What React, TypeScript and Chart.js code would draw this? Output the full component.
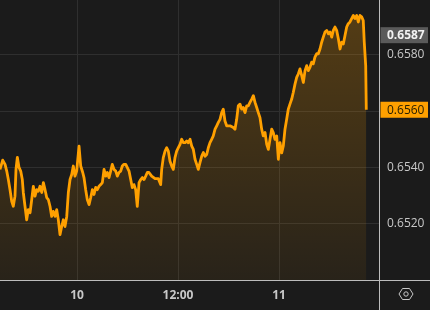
import { useEffect, useRef } from "react";
import { Chart, registerables } from "chart.js";
Chart.register(...registerables);

// Hours relative to midnight of day "10"
const times = [
  -9.15, -8.83, -8.55, -8.35, -8.16, -7.96, -7.76, -7.57, -7.37, -7.25,
  -7.09, -6.89, -6.69, -6.5, -6.38, -6.18, -5.98, -5.79, -5.58, -5.38,
  -5.19, -4.99, -4.79, -4.6, -4.4, -4.19, -4.0, -3.8, -3.6, -3.41,
  -3.21, -3.01, -2.82, -2.61, -2.41, -2.22, -2.02, -1.82, -1.63, -1.43,
  -1.22, -1.03, -0.83, -0.63, -0.44, -0.24, -0.04, 0.24, 0.44, 0.68,
  0.83, 1.03, 1.22, 1.43, 1.63, 1.82, 2.02, 2.22, 2.41, 2.61,
  2.82, 3.01, 3.21, 3.41, 3.6, 3.8, 4.0, 4.19, 4.4, 4.6,
  4.79, 4.99, 5.19, 5.38, 5.58, 5.79, 5.98, 6.18, 6.38, 6.57,
  6.77, 6.97, 7.16, 7.37, 7.57, 7.76, 7.96, 8.16, 8.35, 8.55,
  8.87, 9.27, 9.66, 9.94, 10.06, 10.25, 10.46, 10.66, 10.85, 11.05,
  11.25, 11.44, 11.64, 11.84, 12.04, 12.24, 12.44, 12.63, 12.83, 13.03,
  13.22, 13.43, 13.63, 13.82, 14.02, 14.22, 14.41, 14.61, 14.82, 15.01,
  15.21, 15.41, 15.6, 15.8, 16.0, 16.19, 16.4, 16.6, 16.79, 16.99,
  17.19, 17.38, 17.58, 17.78, 18.18, 18.57, 18.77, 18.97, 19.16, 19.37,
  19.57, 19.76, 19.96, 20.16, 20.35, 20.55, 20.76, 20.95, 21.15, 21.35,
  21.54, 21.74, 21.94, 22.13, 22.34, 22.54, 22.73, 22.93, 23.13, 23.32,
  23.52, 23.73, 23.92, 24.12, 24.32, 24.51, 24.71, 24.91, 25.1, 25.3,
  25.51, 25.7, 25.9, 26.1, 26.29, 26.49, 26.7, 26.89, 27.09, 27.29,
  27.48, 27.68, 27.88, 28.07, 28.27, 28.48, 28.67, 28.87, 29.07, 29.26,
  29.46, 29.67, 29.86, 30.06, 30.26, 30.45, 30.65, 30.85, 31.05, 31.25,
  31.45, 31.64, 31.84, 32.04, 32.23, 32.43, 32.63, 32.83, 33.03, 33.23,
  33.42, 33.62, 33.82, 34.01, 34.13, 34.3, 34.37,
];

const rates = [
  0.65393, 0.65426, 0.65411, 0.65387, 0.65357, 0.65321, 0.6528, 0.65262, 0.65298, 0.65393,
  0.65436, 0.654, 0.65387, 0.65357, 0.65311, 0.65262, 0.65214, 0.6525, 0.65239, 0.65286,
  0.65333, 0.65298, 0.65321, 0.65315, 0.65333, 0.65311, 0.65346, 0.65321, 0.65293, 0.65286,
  0.65262, 0.65226, 0.65244, 0.65226, 0.6525, 0.65214, 0.65161, 0.6519, 0.65214, 0.6519,
  0.65226, 0.65311, 0.65357, 0.65375, 0.65405, 0.65369, 0.65387, 0.65476, 0.65405, 0.65382,
  0.65364, 0.65321, 0.65286, 0.65268, 0.65293, 0.65321, 0.65304, 0.65329, 0.65321, 0.65333,
  0.65339, 0.65346, 0.65393, 0.65369, 0.65382, 0.65364, 0.65387, 0.65411, 0.65393, 0.65387,
  0.65369, 0.65382, 0.65387, 0.65405, 0.65411, 0.65411, 0.65399, 0.65387, 0.65357, 0.65328,
  0.65339, 0.65321, 0.65262, 0.65346, 0.65357, 0.65364, 0.65357, 0.65369, 0.65382, 0.65382,
  0.65369, 0.6536, 0.6536, 0.65339, 0.65393, 0.65435, 0.65458, 0.6547, 0.65458, 0.65422,
  0.65405, 0.65393, 0.65435, 0.65458, 0.6547, 0.65482, 0.655, 0.65488, 0.65488, 0.65494,
  0.65488, 0.655, 0.65476, 0.65464, 0.65429, 0.65411, 0.65393, 0.65417, 0.6544, 0.65453,
  0.6544, 0.65446, 0.6547, 0.65488, 0.655, 0.65512, 0.65536, 0.65548, 0.6556, 0.65571,
  0.65595, 0.65607, 0.65565, 0.65548, 0.65548, 0.65542, 0.65536, 0.65571, 0.65619, 0.65625,
  0.65607, 0.65613, 0.65595, 0.65619, 0.65619, 0.65631, 0.65643, 0.65655, 0.65631, 0.65613,
  0.65595, 0.65577, 0.65536, 0.65512, 0.65524, 0.65482, 0.65464, 0.655, 0.65536, 0.65524,
  0.655, 0.65512, 0.65429, 0.65488, 0.65452, 0.65476, 0.65536, 0.65571, 0.65607, 0.65625,
  0.65643, 0.65667, 0.65696, 0.6572, 0.65732, 0.6575, 0.65726, 0.65702, 0.65744, 0.65762,
  0.65744, 0.65756, 0.65774, 0.65768, 0.65792, 0.65804, 0.65804, 0.65821, 0.65845, 0.65863,
  0.65881, 0.65887, 0.65875, 0.65881, 0.65863, 0.65887, 0.65899, 0.65887, 0.65857, 0.65821,
  0.65845, 0.65839, 0.65869, 0.65899, 0.65911, 0.65917, 0.65929, 0.6594, 0.65929, 0.6594,
  0.65917, 0.6594, 0.65935, 0.65922, 0.65845, 0.65762, 0.65605,
];

const yTickValues = [0.652, 0.654, 0.656, 0.658];
const xTickHours = [0, 12, 24];
const xTickLabels = ["10", "12:00", "11"];
const lastLabel = "0.6560";
const refValue = 0.6587;
const refLabel = "0.6587";

const BG = "#1b1b1b";
const ORANGE = "#ffa000";
const TEXT = "#c8c8c8";
const FONT = "'Open Sans', 'Noto Sans', sans-serif";

export default function App() {
  const canvasRef = useRef<HTMLCanvasElement | null>(null);

  useEffect(() => {
    document.body.style.margin = "0";
    document.body.style.background = BG;
    const canvas = canvasRef.current;
    if (!canvas) return;
    const n = Math.min(times.length, rates.length);
    const points = [];
    for (let i = 0; i < n; i++) points.push({ x: times[i], y: rates[i] });

    const overlay = {
      id: "overlay",
      beforeDraw(chart: any) {
        const c = chart.ctx;
        c.save();
        c.fillStyle = BG;
        c.fillRect(0, 0, chart.width, chart.height);
        c.restore();
      },
      afterDraw(chart: any) {
        const c = chart.ctx;
        const area = chart.chartArea;
        const ys = chart.scales.y;
        c.save();
        // axis lines
        c.strokeStyle = "#bdbdbd";
        c.lineWidth = 1;
        c.beginPath();
        c.moveTo(0, Math.round(area.bottom) + 0.5);
        c.lineTo(chart.width, Math.round(area.bottom) + 0.5);
        c.moveTo(Math.round(area.right) + 0.5, 0);
        c.lineTo(Math.round(area.right) + 0.5, chart.height);
        c.stroke();

        const tag = (value: number, text: string, bg: string, fg: string, weight: string) => {
          const y = ys.getPixelForValue(value);
          c.fillStyle = bg;
          c.fillRect(area.right + 1.5, y - 8, chart.width - area.right - 3.5, 16);
          c.fillStyle = fg;
          c.font = `${weight} 12px ${FONT}`;
          c.textAlign = "left";
          c.textBaseline = "middle";
          c.fillText(text, area.right + 8, y + 0.5);
        };
        tag(refValue, refLabel, "#5a5a5a", "#f2f2f2", "bold");
        tag(rates[n - 1], lastLabel, ORANGE, "#2a2000", "normal");

        // settings hexagon icon
        const cx = area.right + 27, cy = area.bottom + 14;
        c.strokeStyle = TEXT;
        c.lineWidth = 1;
        c.beginPath();
        const rx = 7, ry = 5.5;
        c.moveTo(cx - rx, cy);
        c.lineTo(cx - rx / 2, cy - ry);
        c.lineTo(cx + rx / 2, cy - ry);
        c.lineTo(cx + rx, cy);
        c.lineTo(cx + rx / 2, cy + ry);
        c.lineTo(cx - rx / 2, cy + ry);
        c.closePath();
        c.stroke();
        c.beginPath();
        c.arc(cx, cy, 2.2, 0, Math.PI * 2);
        c.stroke();
        c.restore();
      },
    };

    const chart = new Chart(canvas, {
      type: "line",
      data: {
        datasets: [
          {
            data: points,
            borderColor: ORANGE,
            borderWidth: 2.8,
            pointRadius: 0,
            tension: 0,
            fill: "start",
            borderJoinStyle: "round",
            backgroundColor: (ctx: any) => {
              const ch = ctx.chart;
              const a = ch.chartArea;
              if (!a) return "rgba(255,160,0,0.15)";
              const g = ch.ctx.createLinearGradient(0, a.top, 0, a.bottom);
              g.addColorStop(0, "rgba(255,160,0,0.26)");
              g.addColorStop(1, "rgba(255,160,0,0.06)");
              return g;
            },
          } as any,
        ],
      },
      options: {
        responsive: false,
        animation: false,
        devicePixelRatio: 1,
        layout: { padding: 0 },
        plugins: { legend: { display: false }, tooltip: { enabled: false } },
        scales: {
          x: {
            type: "linear",
            min: -9.15,
            max: 35.88,
            afterBuildTicks: (s: any) => {
              s.ticks = xTickHours.map((v) => ({ value: v }));
            },
            afterFit: (s: any) => {
              s.height = 30;
              s.paddingLeft = 0;
              s.paddingRight = 0;
            },
            grid: { color: "#2f2f2f", drawTicks: false, lineWidth: 1 },
            border: { display: false },
            ticks: {
              autoSkip: false,
              maxRotation: 0,
              padding: 8,
              color: TEXT,
              font: { family: FONT, size: 12, weight: "bold" },
              callback: (_v: any, i: number) => xTickLabels[i],
            },
          },
          y: {
            type: "linear",
            position: "right",
            min: 0.65,
            max: 0.65995,
            afterBuildTicks: (s: any) => {
              s.ticks = yTickValues.map((v) => ({ value: v }));
            },
            afterFit: (s: any) => {
              s.width = 51;
              s.paddingTop = 0;
              s.paddingBottom = 0;
            },
            grid: { color: "#2f2f2f", drawTicks: false, lineWidth: 1 },
            border: { display: false },
            ticks: {
              padding: 8,
              color: TEXT,
              font: { family: FONT, size: 12 },
              callback: (v: any) => Number(v).toFixed(4),
            },
          },
        },
      },
      plugins: [overlay],
    } as any);

    return () => chart.destroy();
  }, []);

  return (
    <div style={{ width: 430, height: 310, background: BG }}>
      <canvas ref={canvasRef} width={430} height={310} style={{ display: "block" }} />
    </div>
  );
}
